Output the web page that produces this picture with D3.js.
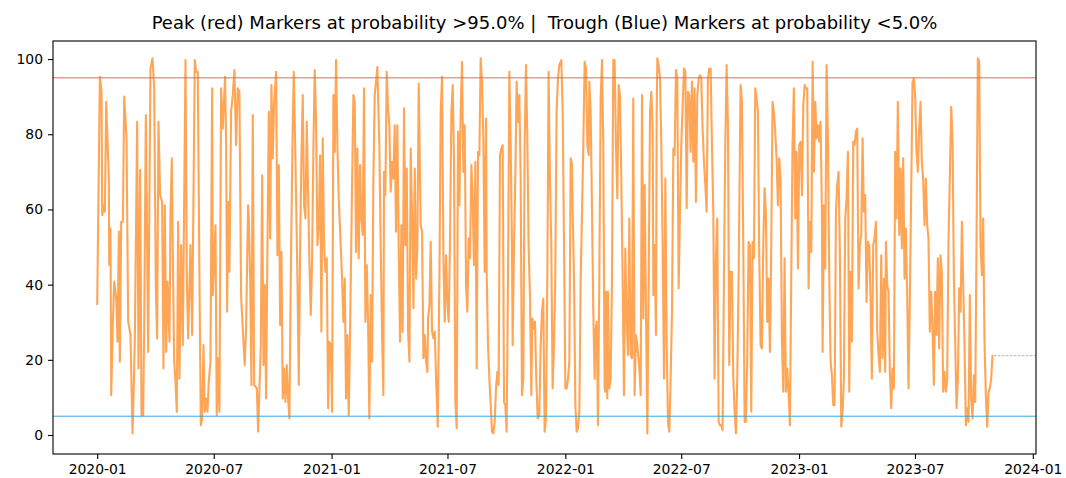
<!DOCTYPE html>
<meta charset="utf-8">
<head>
    <script src="https://d3js.org/d3.v7.min.js"></script>
    <style>
        body { margin: 0; background: white; }
        text { font-family: "DejaVu Sans", sans-serif; }
    </style>
</head>
<body>
<div id="chart"></div>
<script>
    // series: [days since 2020-01-01, probability %]
    const startDate = Date.UTC(2020, 0, 1);
    const domainDays = [-69, 1466];
    const yDomain = [-5.05, 104.8];
    const yTicks = [0, 20, 40, 60, 80, 100];
    const peakLevel = 95;
    const troughLevel = 5;
    const forecastValue = 21.1;
    const titleText = "Peak (red) Markers at probability >95.0% |  Trough (Blue) Markers at probability <5.0%";

    const points2020a = [[0,34.6],[4.2,95.3],[6.8,91.3],[7.8,58.5],[9.9,61.1],[12,59.4],[14.1,88.6],[18.2,68.2],[18.8,45.2],[20.8,54.9],[21.9,10.6],[24.5,30.1],[26.6,40.8],[29.7,36.3],[31.8,24.8],[33.8,54.1],[35.4,19.5],[37.5,56.7],[40.1,56.7],[42.2,90],[45.8,78.9],[48.4,30.1],[52,26.6],[55.2,0.4],[57.2,13.3],[58.8,25.7],[62.4,83.3],[64.5,17.7],[67.1,70.5],[69.2,5.3],[71.8,5.3],[73.4,28.3],[76,85.1],[79.6,22.1],[83.2,97.5],[86.4,100.2],[89,92.2],[91.6,39],[93.6,25.7],[95.7,83.3],[98.3,63.8],[101.4,62],[103.5,17.7],[105.6,61.1],[107.7,22.1],[109.8,40.8],[112.9,24.8],
        [114.5,59.4],[116.5,73.6],[118.1,48.7],[120.2,19.5],[122.3,14.2],[124.3,6.2],[126.4,56.7],[128.5,15],[131.1,50.5],[133.7,23.9],[137.9,99.7],[140,41.6],[142,25.7],[145.7,50.5],[148.3,26.6],[152.4,99.7],[154.5,96.6],[157.1,96.6],[159.7,41.6],[161.8,2.6],[163.9,4.4],[166,23.9],[168,6.2],[170.1,9.7],[172.2,6.2],[174.3,14.2],[176.9,19.5],[179.5,92.2],[180.5,37.2],[184.7,55.8]];
    const points2020b = [[186.7,5.3],[188.3,20.4],[190.9,6.2],[193.5,92.2],[196.1,81.5],[199.7,95.3],[201.3,78],[202.9,32.8],[204.4,62],[206.5,43.4],[209.1,86],[211.7,90.4],[214.3,97.1],[216.9,77.1],[219.5,92.2],[222.1,91.3],[224.7,37.2],[227.3,28.3],[230.4,18.6],[232.5,28.3],[235.6,61.1],
        [236.8,57.6],[238.9,41.6],[240.9,13.3],[243,85.1],[245.1,13.3],[249.3,12.4],[251.3,0.9],[253.4,12.4],[255.5,23.9],[257.6,69.1],[259.7,18.6],[261.7,39.9],[263.8,9.7],[265.9,50.5],[268,86],[270.1,52.3],[272.1,93.1],[274.2,73.6],[276.3,88.6],[279.4,96.6],[281.5,47.8],[283.6,71.8],[285.7,29.2],[287.7,48.7],[289.8,9.7],[291.9,17.7],[294,8.8],[296.1,18.6],[298.1,9.7],[300.2,4.4],[302.3,41.6],[304.9,77.1],[307,96.6],[310.1,68.2],[312.7,41.6],[314.8,13.3],[316.9,50.5],[318.9,73.6],[321,90.4],[323.1,61.1],[325.2,57.6],[327.3,83.3],[329.3,64.7],[331.4,46.1],[333.5,31.9],[335.6,47],[337.7,77.1],[339.7,97.1],[341.8,83.3],[343.9,50.5],[346,55.8],[348.1,74.4],[350.1,27.5],[352.2,78.9],[354.3,50.5],[356.4,43.4],[358.5,47],[360.6,7.1],[362.6,24.8],[364.7,23.9]];
    const points2021a = [[366.8,6.2],[368.9,90.4],[371,75.3],[373,99.7],[375.1,77.1],[377.2,62.9],[379.8,52.3],[382.4,41.6],[384.5,30.1],[386.6,41.6],[388.6,9.7],[390.7,26.6],[392.8,5.3],[394.9,27.5],[398,66.5],[400.1,90.4],[402.2,88.6],[404.2,48.7],[406.3,76.2],[408.4,47],[410.5,71.8],[412.6,57.6],[414.6,53.2],[416.7,92.2],[418.8,30.1],[420.9,45.2],[423,30.1],[425,4.4],[427.1,37.2],[429.2,19.5],[431.3,68.2],[433.4,90.4],[435.4,93.9],[437.5,97.9],[440.6,77.1],[442.7,50.5],[444.8,27.5],[446.9,10.6],[447.9,70],[450,63.8],[452.1,96.6],[454.2,86.9],[456.2,82.4],[458.3,64.7],[460.4,72.7],[462.5,68.2],[464.6,82.4],[466.6,54.1],[468.7,82.4],[470.8,50.5],[472.9,24.8],[475,55.8],[477,27.5],[479.1,86.9],
        [481.3,50.5],[483.4,70.9],[485.5,27.5],[487.6,19.5],[489.6,76.2],[491.7,57.6],[493.8,33.7],[495.9,70.9],[498,41.6],[500,50.5],[502.1,93.5],[505.2,55.8],[507.3,54.1],[509.4,20.4],[511.5,26.6],[513.6,19.5],[515.6,16.8],[516.7,31],[518.8,34.5],[520.8,51.4],[522.9,27.5],[525,25.7],[527.1,27.5],[529.2,15],[531.8,2.2],[534.4,41.6],[536.4,86],[538.5,95.3],[540.6,47.8],[542.7,30.1],[544.8,47.8],[546.8,35.4]];
    const points2021b = [[548.9,30.1],[551,52.3],[553.1,86],[555.2,93.1],[557.2,72.7],[559.3,8.8],[561.4,1.8],[563.5,80.7],[565.6,61.1],[567.6,86],[569.7,99.3],[571.8,70],[573.9,82.4],[576,39.9],[578,32.8],[580.1,52.3],[582.2,47],[584.3,71.8],[586.4,62],[588.4,45.2],[590.5,72.7],[592.6,17.7],[594.7,75.3],[596.8,74.4],[598.8,100.2],[600.9,94],
        [603,78.9],[605.1,43.4],[607.2,84.2],[608.2,43.4],[610.3,23.9],[612.4,15],[614.5,7.9],[616.5,0.9],[618.6,0.4],[620.7,3.5],[622.8,12.4],[624.9,16.8],[626.9,13.3],[629,74.4],[631.1,76.2],[633.2,77.1],[635.3,8.8],[637.3,7.9],[639.4,0.9],[641.5,41.6],[643.6,96.6],[645.7,77.1],[647.7,50.5],[648.8,23.9],[650.9,50.5],[652.9,68.2],[655,94],[657.1,83.3],[659.2,90.4],[661.3,68.2],[663.3,10.6],[665.4,15],[667.5,77.1],[669.6,98.4],[671.7,78.9],[673.7,50.5],[675.8,37.2],[677.9,10.6],[679.5,31],[681.5,28.3],[683.6,30.1],[685.7,15],[687.8,4.4],[690.4,5.3],[692.5,23.9],[694.5,32.8],[696.6,36.3],[698.7,0.9],[700.8,4.4],[702.9,41.6],[704.9,96.6],[707,68.2],[709.1,50.5],[711.2,12.4],[713.3,23.9],[715.3,41.6],[717.4,86],[719.5,94.8],[721.6,98.4],
        [724.8,99.7],[726.9,86],[729,50.5]];
    const points2022a = [[731.1,12.4],[733.1,12.4],[735.2,15],[737.3,19.5],[739.4,73.6],[741.5,71.8],[742.5,59.4],[744.6,41.6],[746.7,7.9],[748.7,0.9],[750.8,1.8],[752.9,6.2],[755,41.6],[757.1,59.4],[759.1,77.1],[761.2,99.3],[763.3,97.5],[765.4,77.1],[767.5,74.4],[768.5,94],[770.6,86],[772.7,59.4],[774.7,32.8],[776.8,15],[777.9,27.5],[779.9,30.1],[782,2.6],[784.1,41.6],[786.2,89.5],[788.3,99.7],[790.3,77.1],[792.4,12.4],[793.5,11.5],[794.5,38.1],[796.6,9.7],[797.6,38.1],[799.7,12.4],[801.8,15],[803.9,41.6],[805.9,99.7],[808,99.7],[810.1,77.1],[812.2,62.9],[814.3,93.1],[816.3,90.4],[818.4,68.2],[820.5,41.6],[822.6,10.6],[824.7,49.6],[826.7,31],[828.8,21.3],[830.9,57.6],[833,21.3],[835.1,20.4],[837.1,89.5],[839.2,10.6],[841.3,26.6],[843.4,23.9],
        [846.6,17.7],[848.7,10.6],[850.8,90.4],[852.9,31],[854.9,66.5],[857,32.8],[859.1,0.4],[861.2,41.6],[863.3,86],[865.3,91.3],[867.4,81.5],[868.5,37.2],[870.5,50.5],[872.6,26.6],[873.7,86],[874.7,100.2],[876.8,98.4],[878.9,94.8],[880.9,77.1],[883,50.5],[885.1,15],[887.2,68.2],[889.3,23.9],[891.3,3.5],[893.4,0.9],[895.5,15],[897.6,32.8],[899.7,76.2],[901.7,74.4],[903.8,97.1],[905.9,94.8]];
    const points2022b = [[908,39],[910.1,59.4],[912.1,77.1],[914.2,87.7],[916.3,97.5],[918.4,96.6],[920.5,60.3],[922.5,91.3],[924.6,90.4],[926.7,75.3],[928.8,94],[930.9,72.7],[932.9,92.2],[935,62],[937.1,90.4],[939.2,94.8],[941.3,95.7],[943.3,94.8],[945.4,81.5],[947.5,72.7],[949.6,66.5],[951.7,59.4],[953.7,94.8],[955.8,97.5],[957.9,97.5],[960,77.1],[962.1,59.4],[964.1,15],[966.2,47.8],
        [968.3,57.6],[970.4,3.5],[972.5,2.6],[974.6,2.6],[976.6,1.3],[978.7,41.6],[980.8,77.1],[982.9,98.4],[985,81.5],[987,18.6],[989.1,43.4],[991.2,43.4],[993.3,15],[995.4,6.2],[997.4,0.4],[999.5,15],[1001.6,41.6],[1003.7,77.1],[1004.7,93.1],[1006.8,88.6],[1008.9,50.5],[1011,3.5],[1013,3.5],[1015.1,20.4],[1017.2,51.4],[1019.3,50.5],[1021.4,6.2],[1023.4,51.4],[1025.5,47],[1027.6,92.2],[1029.7,89.5],[1031.8,86],[1033.8,48.7],[1035.9,23.9],[1038,23],[1040.1,50.5],[1042.2,65.6],[1044.2,59.4],[1046.3,30.1],[1048.4,41.6],[1050.5,22.1],[1052.6,50.5],[1054.6,88.6],[1056.7,86],[1058.8,80.7],[1060.9,73.6],[1063,61.1],[1065,73.6],[1067.1,68.2],[1069.2,25.7],[1071.3,11.5],[1073.4,47],[1075.4,11.5],[1077.5,17.7],[1079.6,11.5],[1081.7,2.6],[1083.8,41.6],[1085.8,77.1],[1087.9,92.2],
        [1090.1,57.6],[1092.2,75.3],[1094.3,44.3]];
    const points2023a = [[1096.4,77.1],[1098.4,78],[1100.5,63.8],[1102.6,87.7],[1104.7,93.1],[1106.8,92.2],[1108.8,92.2],[1110.9,39],[1113,56.7],[1115.1,48.7],[1117.2,99.3],[1119.2,70],[1121.3,88.6],[1123.4,78.9],[1125.5,82.4],[1127.6,78],[1129.6,83.3],[1131.7,59.4],[1132.8,22.1],[1134.8,61.1],[1136.9,44.3],[1139,98.4],[1141.1,78],[1143.2,41.6],[1145.2,19.5],[1147.3,15.9],[1149.4,7.9],[1151.5,7.9],[1153.6,59.4],[1155.6,66.5],[1157.7,70],[1159.8,47.8],[1161.9,2.2],[1164,6.2],[1166,15],[1168.1,57.6],[1170.2,62.9],[1172.3,75.3],[1174.4,11.5],[1176.4,43.4],[1178.5,24.8],[1180.6,78],[1182.7,77.1],[1184.8,80.7],[1186.8,81.5],[1188.9,39],[1191,50.5],[1193.1,53.2],[1195.2,78.9],[1197.2,59.4],[1199.3,63.8],[1201.4,35.4],[1203.5,51.4],[1205.6,50.5],[1207.6,36.3],[1209.7,15],
        [1211.8,50.5],[1213.9,52.3],[1216,56.7],[1218.1,27.5],[1220.1,21.3],[1222.2,16.8],[1224.3,47.8],[1226.4,20.4],[1228.5,41.6],[1230.5,16.8],[1231.6,51.4],[1233.7,39.9],[1235.7,38.1],[1237.8,16.8],[1239.9,7.1],[1242,17.7],[1244.1,12.4],[1246.1,75.3],[1248.2,57.6],[1250.3,88.6],[1252.4,53.2],[1254.5,70.9],[1256.5,49.6],[1258.6,73.6],[1260.7,41.6],[1262.8,54.9],[1264.9,37.2],[1266.9,12.4],[1269,36.3],[1271.1,64.7]];
    const points2023b = [[1273.2,94],[1275.3,94.8],[1277.3,90.4],[1279.4,75.3],[1281.5,70],[1283.6,81.5],[1285.7,88.6],[1287.7,72.7],[1289.8,68.2],[1291.9,55.8],[1294,68.2],[1296.1,55.8],[1298.1,52.3],[1300.2,27.5],[1302.3,38.1],[1304.4,28.3],[1306.5,13.3],[1308.5,38.1],[1310.6,26.6],[1312.7,47],[1314.8,23],[1316.9,47.8],[1318.9,43.4],[1321,11.5],[1323.1,16.8],[1325.2,11.5],[1327.3,15],[1329.3,50.5],
        [1333.6,87.3],[1335.7,78],[1337.8,41.6],[1339.9,23.9],[1341.9,7.1],[1344,15],[1346.1,39],[1348.2,32.8],[1350.3,56.7],[1352.3,39.9],[1354.4,23.9],[1356.5,2.6],[1358.6,7.1],[1360.7,3.5],[1362.7,37.2],[1364.8,9.7],[1366.9,4.4],[1369,15.9],[1371.1,8.8],[1373.1,50.5],[1375.2,100.2],[1377.3,99.3],[1379.4,50.5],[1381.5,42.5],[1383.5,57.6],[1385.6,24.8],[1387.7,10.6],[1389.8,2.2],[1391.9,11.5],[1393.9,12.4],[1396,15],[1398.1,21.3]];

    const series = [].concat(points2020a, points2020b, points2021a, points2021b,
        points2022a, points2022b, points2023a, points2023b)
        .map(d => ({ date: new Date(startDate + d[0] * 86400000), value: d[1] }));

    const width = 1066, height = 478;
    const margin = { top: 41, right: 30, bottom: 24, left: 53 };
    const plotW = width - margin.left - margin.right;
    const plotH = height - margin.top - margin.bottom;

    const svg = d3.select("#chart").append("svg")
        .attr("width", width)
        .attr("height", height)
        .style("display", "block")
        .style("background-color", "white");

    const chart = svg.append("g")
        .attr("transform", `translate(${margin.left}, ${margin.top})`);

    const x = d3.scaleUtc()
        .domain(domainDays.map(d => new Date(startDate + d * 86400000)))
        .range([0, plotW]);

    const y = d3.scaleLinear()
        .domain(yDomain)
        .range([plotH, 0]);

    chart.append("clipPath").attr("id", "clip")
        .append("rect").attr("width", plotW).attr("height", plotH);

    const plot = chart.append("g").attr("clip-path", "url(#clip)");

    // probability line
    const line = d3.line()
        .x(d => x(d.date))
        .y(d => y(d.value));

    plot.append("path")
        .datum(series)
        .attr("fill", "none")
        .attr("stroke", "#ff7f0e")
        .attr("stroke-opacity", 0.7)
        .attr("stroke-width", 2.1)
        .attr("stroke-linejoin", "round")
        .attr("d", line);

    // threshold lines
    plot.append("line")
        .attr("x1", 0).attr("x2", plotW)
        .attr("y1", y(peakLevel)).attr("y2", y(peakLevel))
        .attr("stroke", "#f06060")
        .attr("stroke-width", 1);

    plot.append("line")
        .attr("x1", 0).attr("x2", plotW)
        .attr("y1", y(troughLevel)).attr("y2", y(troughLevel))
        .attr("stroke", "#3aa6dc")
        .attr("stroke-width", 1);

    // dashed continuation after last point
    const last = series[series.length - 1];
    plot.append("line")
        .attr("x1", x(last.date) + 1.5).attr("x2", plotW)
        .attr("y1", y(forecastValue)).attr("y2", y(forecastValue))
        .attr("stroke", "#999")
        .attr("stroke-width", 0.8)
        .attr("stroke-dasharray", "2.5,1.5");

    // axes
    const bottomAxis = d3.axisBottom(x)
        .ticks(d3.utcMonth.every(6))
        .tickFormat(d3.utcFormat("%Y-%m"))
        .tickSize(5)
        .tickPadding(5);

    const gx = chart.append("g")
        .attr("transform", `translate(0, ${plotH})`)
        .call(bottomAxis);

    const leftAxis = d3.axisLeft(y)
        .tickValues(yTicks)
        .tickSize(5)
        .tickPadding(5);

    const gy = chart.append("g").call(leftAxis);

    [gx, gy].forEach(g => {
        g.select(".domain").remove();
        g.selectAll("line").attr("stroke", "black").attr("stroke-width", 1.1);
        g.selectAll("text")
            .attr("fill", "black")
            .style("font-family", "DejaVu Sans")
            .style("font-size", "13.9px");
    });

    chart.append("rect")
        .attr("width", plotW)
        .attr("height", plotH)
        .attr("fill", "none")
        .attr("stroke", "black")
        .attr("stroke-width", 1.1);

    svg.append("text")
        .attr("x", margin.left + plotW / 2)
        .attr("y", 29)
        .attr("text-anchor", "middle")
        .style("font-size", "18px")
        .style("white-space", "pre")
        .attr("xml:space", "preserve")
        .text(titleText);
</script>
</body>
